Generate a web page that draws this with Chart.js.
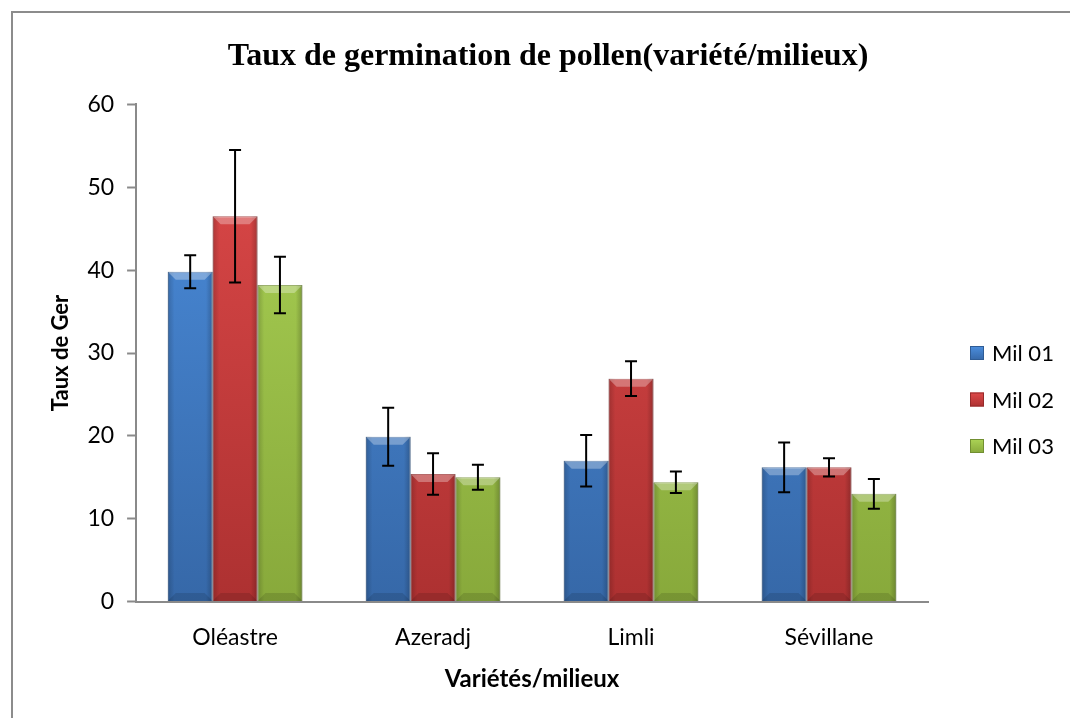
<!DOCTYPE html>
<html>
<head>
<meta charset="utf-8">
<script src="https://cdn.jsdelivr.net/npm/chart.js@4.4.0/dist/chart.umd.min.js"></script>
<style>
  body { margin: 0; background: #fff; }
  #wrap { position: relative; width: 1070px; height: 718px; }
</style>
</head>
<body>
<div id="wrap"><canvas id="chart" width="1070" height="718"></canvas></div>
<script>
// data
const varietes = ["Oléastre", "Azeradj", "Limli", "Sévillane"];
const mil01 = [39.8, 19.9, 17.0, 16.2];
const mil02 = [46.5, 15.4, 26.9, 16.2];
const mil03 = [38.2, 15.0, 14.4, 13.0];
const errMil01 = [2.0, 3.5, 3.1, 3.0];
const errMil02 = [8.0, 2.5, 2.1, 1.1];
const errMil03 = [3.4, 1.5, 1.3, 1.8];
const yTicks = [0, 10, 20, 30, 40, 50, 60];

const labelFont = "Lato, 'Noto Sans', sans-serif";
const topColors = ["#4c8fdf", "#df4a4a", "#acd456"];
const bottomColors = ["#3668a8", "#ad3131", "#88a93b"];
const edgeColors = ["#2f5c95", "#952a2a", "#718f31"];

// vertical gradient for the bars (lighter top, darker bottom)
const grad = (i) => (context) => {
  const area = context.chart.chartArea;
  if (!area) return topColors[i];
  const g = context.chart.ctx.createLinearGradient(0, area.top, 0, area.bottom);
  g.addColorStop(0, topColors[i]);
  g.addColorStop(1, bottomColors[i]);
  return g;
};

// gray frame around the whole chart
const frame = {
  id: "frame",
  beforeDraw(chart) {
    const ctx = chart.ctx;
    ctx.save();
    ctx.strokeStyle = "#8c8c8c";
    ctx.lineWidth = 2;
    ctx.strokeRect(12, 12, 1200, 900);
    ctx.restore();
  }
};

// bevel look: light top facet, shaded sides
const bevel = {
  id: "bevel",
  afterDatasetsDraw(chart) {
    const ctx = chart.ctx;
    ctx.save();
    chart.data.datasets.forEach((ds, i) => {
      const meta = chart.getDatasetMeta(i);
      meta.data.forEach((bar) => {
        const l = bar.x - bar.width / 2, r = bar.x + bar.width / 2;
        const t = bar.y, b = bar.base, d = 8;
        // side shading
        const h = ctx.createLinearGradient(l, 0, r, 0);
        h.addColorStop(0, "rgba(0,0,0,0.18)");
        h.addColorStop(0.15, "rgba(0,0,0,0)");
        h.addColorStop(0.85, "rgba(0,0,0,0)");
        h.addColorStop(1, "rgba(0,0,0,0.22)");
        ctx.fillStyle = h;
        ctx.fillRect(l, t, r - l, b - t);
        // top facet
        ctx.fillStyle = "rgba(255,255,255,0.3)";
        ctx.beginPath();
        ctx.moveTo(l, t); ctx.lineTo(r, t);
        ctx.lineTo(r - d, t + d); ctx.lineTo(l + d, t + d);
        ctx.closePath(); ctx.fill();
        // bottom facet
        ctx.fillStyle = "rgba(0,0,0,0.12)";
        ctx.beginPath();
        ctx.moveTo(l, b); ctx.lineTo(r, b);
        ctx.lineTo(r - d, b - d); ctx.lineTo(l + d, b - d);
        ctx.closePath(); ctx.fill();
      });
    });
    ctx.restore();
  }
};

// black error bars with caps
const errorBars = {
  id: "errorBars",
  afterDatasetsDraw(chart) {
    const ctx = chart.ctx;
    const y = chart.scales.y;
    ctx.save();
    ctx.strokeStyle = "#000";
    ctx.lineWidth = 2;
    chart.data.datasets.forEach((ds, i) => {
      const meta = chart.getDatasetMeta(i);
      if (meta.hidden) return;
      meta.data.forEach((bar, j) => {
        const v = ds.data[j], e = ds.errors[j];
        const top = y.getPixelForValue(v + e);
        const bot = y.getPixelForValue(v - e);
        ctx.beginPath();
        ctx.moveTo(bar.x, top); ctx.lineTo(bar.x, bot);
        ctx.moveTo(bar.x - 6, top); ctx.lineTo(bar.x + 6, top);
        ctx.moveTo(bar.x - 6, bot); ctx.lineTo(bar.x + 6, bot);
        ctx.stroke();
      });
    });
    ctx.restore();
  }
};

// legend to the right of the plot
const sideLegend = {
  id: "sideLegend",
  afterDraw(chart) {
    const ctx = chart.ctx, area = chart.chartArea;
    const x0 = area.right + 42;
    const yMid = (area.top + area.bottom) / 2;
    ctx.save();
    ctx.font = "22px " + labelFont;
    ctx.textBaseline = "middle";
    chart.data.datasets.forEach((ds, i) => {
      const yc = yMid + i * 46.5;
      const g = ctx.createLinearGradient(0, yc - 7, 0, yc + 7);
      g.addColorStop(0, topColors[i]);
      g.addColorStop(1, bottomColors[i]);
      ctx.fillStyle = g;
      ctx.fillRect(x0, yc - 7, 14, 14);
      ctx.strokeStyle = edgeColors[i];
      ctx.lineWidth = 1;
      ctx.strokeRect(x0 + 0.5, yc - 6.5, 13, 13);
      ctx.fillStyle = "#000";
      ctx.fillText(ds.label, x0 + 22, yc + 1);
    });
    ctx.restore();
  }
};

new Chart(document.getElementById("chart"), {
  type: "bar",
  data: {
    labels: varietes,
    datasets: [
      { label: "Mil 01", data: mil01, errors: errMil01, yAxisID: "y",
        backgroundColor: grad(0), borderColor: edgeColors[0], borderWidth: 1 },
      { label: "Mil 02", data: mil02, errors: errMil02, yAxisID: "y",
        backgroundColor: grad(1), borderColor: edgeColors[1], borderWidth: 1 },
      { label: "Mil 03", data: mil03, errors: errMil03, yAxisID: "y",
        backgroundColor: grad(2), borderColor: edgeColors[2], borderWidth: 1 }
    ]
  },
  options: {
    responsive: false,
    animation: false,
    layout: { padding: { left: 48, right: 22, top: 0, bottom: 24 } },
    datasets: { bar: { categoryPercentage: 0.68, barPercentage: 1.0 } },
    plugins: {
      tooltip: { enabled: false },
      legend: { display: false },
      title: {
        display: true,
        text: "Taux de germination de pollen(variété/milieux)",
        color: "#000",
        font: { family: "'Liberation Serif', serif", size: 32, weight: "bold" },
        padding: { top: 38, bottom: 28 }
      }
    },
    scales: {
      x: {
        grid: { display: false },
        border: { display: true, color: "#8a8a8a", width: 2 },
        ticks: { color: "#000", font: { family: labelFont, size: 23 }, padding: 14 },
        title: {
          display: true, text: "Variétés/milieux", color: "#000",
          font: { family: labelFont, size: 24, weight: "bold" },
          padding: { top: 0, bottom: 0 }
        }
      },
      y: {
        min: 0, max: 60,
        afterBuildTicks: (axis) => { axis.ticks = yTicks.map(v => ({ value: v })); },
        grid: { drawOnChartArea: false, drawTicks: true, tickLength: 9, color: "#8a8a8a", tickWidth: 2 },
        border: { display: true, color: "#8a8a8a", width: 2 },
        ticks: { color: "#000", font: { family: labelFont, size: 23 }, padding: 13 },
        title: {
          display: true, text: "Taux de Ger", color: "#000",
          font: { family: labelFont, size: 22, weight: "bold" },
          padding: { top: 0, bottom: 0 }
        }
      },
      // empty right axis that only reserves room for the legend
      yLegend: {
        position: "right",
        display: true,
        grid: { display: false },
        border: { display: false },
        ticks: { display: false },
        afterFit: (scale) => { scale.width = 120; }
      }
    }
  },
  plugins: [frame, bevel, errorBars, sideLegend]
});
</script>
</body>
</html>
